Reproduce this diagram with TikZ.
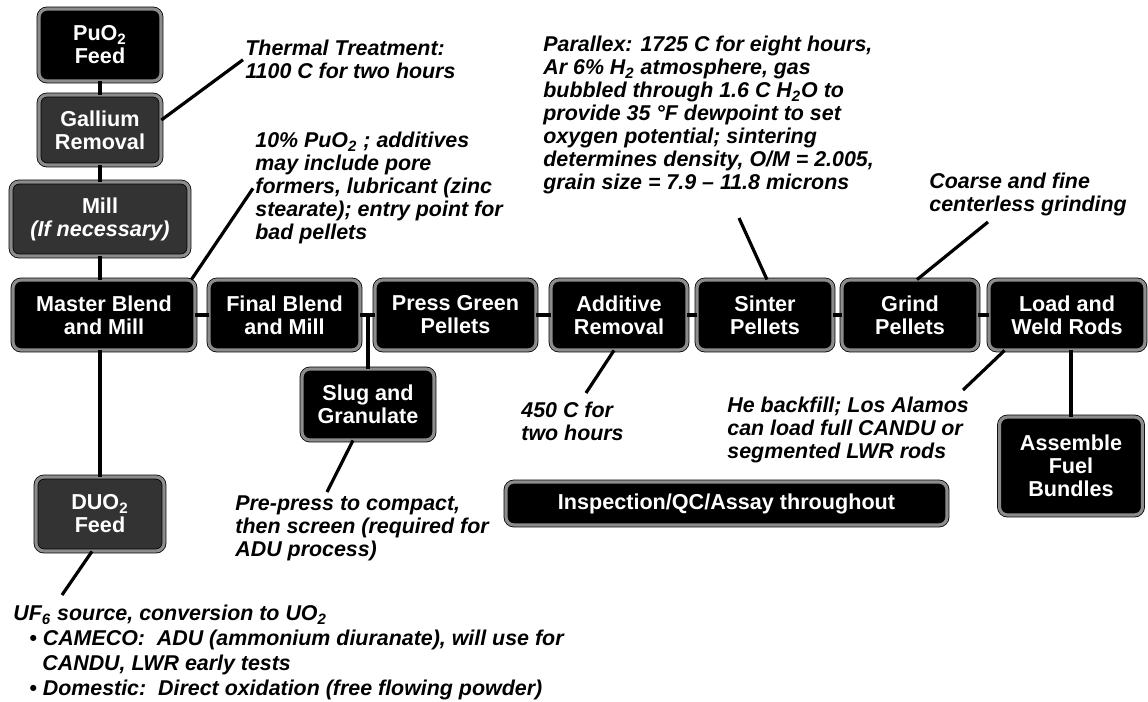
\documentclass[tikz,border=0pt]{standalone}
\usepackage{fontspec}
\setmainfont{Liberation Sans}
\newcommand{\ssub}[1]{\textsubscript{#1}}
\begin{document}
\begin{tikzpicture}[x=0.5pt, y=-0.5pt,
	box/.style={draw=black, line width=0.4pt, double=black!45, double distance=1.6pt, rounded corners=4pt, fill=black, text=white, align=center, inner sep=0pt, font=\fontsize{10.8}{11.5}\selectfont\bfseries},
	grey/.style={box, fill=black!80},
	note/.style={anchor=north west, align=left, inner sep=1pt, font=\fontsize{10.7}{11.5}\selectfont\bfseries\itshape},
	link/.style={line width=2pt},
	lead/.style={line width=1.6pt}]
	\path[use as bounding box, fill=white] (0, 0) rectangle (1148, 702);
	\node[box, minimum width=61pt, minimum height=36pt] (PU)at(100, 45) {PuO\ssub{2}\\Feed};
	\node[grey, minimum width=61pt, minimum height=35pt] (GA)at(100, 130) {Gallium\\Removal};
	\node[grey, minimum width=89pt, minimum height=37pt] (MI)at(100, 219) {Mill\\\textit{(If necessary)}};
	\node[box, minimum width=91pt, minimum height=35pt] (MB)at(104, 315) {Master Blend\\and Mill};
	\node[box, minimum width=75.5pt, minimum height=35pt] (FB)at(284.5, 315) {Final Blend\\and Mill};
	\node[box, minimum width=80.5pt, minimum height=35pt] (PG)at(455.5, 315) {Press Green\\Pellets};
	\node[box, minimum width=68pt, minimum height=35pt] (AR)at(619, 315) {Additive\\Removal};
	\node[box, minimum width=68pt, minimum height=35pt] (SP)at(765, 315) {Sinter\\Pellets};
	\node[box, minimum width=68pt, minimum height=35pt] (GP)at(910, 315) {Grind\\Pellets};
	\node[box, minimum width=78pt, minimum height=35pt] (LW)at(1067, 315) {Load and\\Weld Rods};
	\node[box, minimum width=66pt, minimum height=35.5pt] (SG)at(368, 404.5) {Slug and\\Granulate};
	\node[grey, minimum width=64pt, minimum height=37pt] (DU)at(100, 514) {DUO\ssub{2}\\Feed};
	\node[box, minimum width=71.5pt, minimum height=49pt] (AF)at(1071, 466) {Assemble\\Fuel\\Bundles};
	\node[box, minimum width=220.5pt, minimum height=21.5pt] (QC)at(726.5, 503.5) {Inspection/QC/Assay throughout};
	\node[note] (TT)at(243, 38) {Thermal Treatment:\\1100 C for two hours};
	\node[note] (PO)at(253, 130) {10\% PuO\ssub{2} ; additives\\may include pore\\formers, lubricant (zinc\\stearate); entry point for\\bad pellets};
	\node[note] (PX)at(541, 34) {Parallex: 1725 C for eight hours,\\Ar 6\% H\ssub{2} atmosphere, gas\\bubbled through 1.6 C H\ssub{2}O to\\provide 35 °F dewpoint to set\\oxygen potential; sintering\\determines density, O/M = 2.005,\\grain size = 7.9 -- 11.8 microns};
	\node[note] (CF)at(927, 171) {Coarse and fine\\centerless grinding};
	\node[note] (HC)at(519, 400) {450 C for\\two hours};
	\node[note] (HB)at(725, 395) {He backfill; Los Alamos\\can load full CANDU or\\segmented LWR rods};
	\node[note] (PP)at(233, 493) {Pre-press to compact,\\then screen (required for\\ADU process)};
	\node[note] (UF)at(11, 603) {UF\ssub{6} source, conversion to UO\ssub{2}\\[1pt]\hspace*{8pt}\textbullet\ CAMECO:\ \ ADU (ammonium diuranate), will use for\\[1pt]\hspace*{14.5pt}CANDU, LWR early tests\\[1pt]\hspace*{8pt}\textbullet\ Domestic:\ \ Direct oxidation (free flowing powder)};
	\coordinate (px1)at(739, 218);
	\coordinate (cf1)at(988, 222);
	\coordinate (hc1)at(586, 393);
	\coordinate (hb1)at(963, 390);
	\coordinate (pp1)at(327, 492);
	\coordinate (uf1)at(62, 595);
	\draw[link] (PU) -- (GA);
	\draw[link] (GA) -- (MI);
	\draw[link] (MI.south) -- (MI.south |- MB.north);
	\draw[link] (DU.north) -- (DU.north |- MB.south);
	\draw[link] (MB) -- (FB);
	\draw[link] (FB) -- (PG);
	\draw[link] (PG) -- (AR);
	\draw[link] (AR) -- (SP);
	\draw[link] (SP) -- (GP);
	\draw[link] (GP) -- (LW);
	\draw[link] (SG.north) -- (SG.north |- FB.east);
	\draw[link] (AF.north) -- (AF.north |- LW.south);
	\draw[lead] ([yshift=5pt]GA.east) -- (TT.west);
	\draw[lead] ([xshift=-2pt]MB.north east) -- (PO.west);
	\draw[lead] ([xshift=1pt]SP.north) -- (px1);
	\draw[lead] ([xshift=3.5pt]GP.north) -- (cf1);
	\draw[lead] ([xshift=-2.5pt]AR.south) -- (hc1);
	\draw[lead] ([xshift=8pt]LW.south west) -- (hb1);
	\draw[lead] ([xshift=-7.5pt]SG.south) -- (pp1);
	\draw[lead] ([xshift=-4pt]DU.south) -- (uf1);
\end{tikzpicture}
\end{document}
